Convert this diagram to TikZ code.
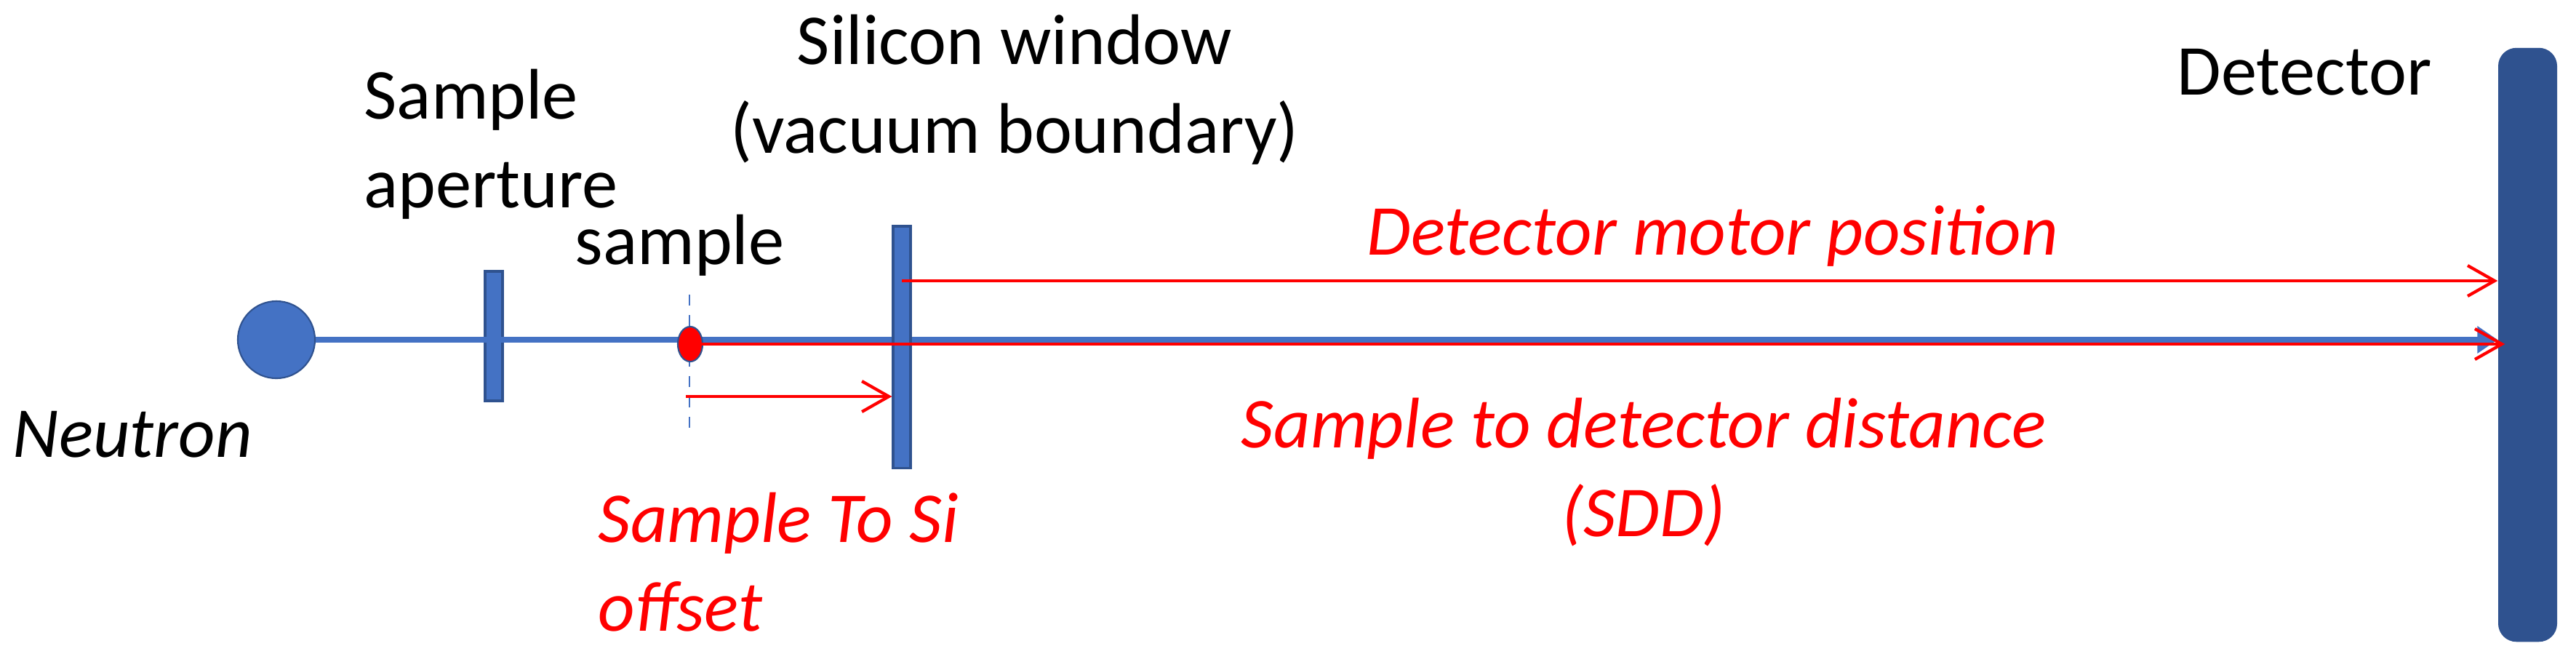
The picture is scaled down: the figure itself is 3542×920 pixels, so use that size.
\documentclass[tikz,border=0pt]{standalone}
\usepackage{fontspec}
\setmainfont{Carlito}
\usetikzlibrary{arrows.meta,shapes.geometric}
\definecolor{offblue}{HTML}{4472C4}
\definecolor{offdark}{HTML}{2F528F}
\definecolor{offred}{HTML}{FF0000}
\tikzset{
  lbl/.style={inner sep=0pt, font=\fontsize{28}{34.7}\selectfont, text=black},
  redlbl/.style={lbl, font=\fontsize{28}{34.7}\selectfont\itshape, text=offred},
  bar/.style={rectangle, draw=offdark, fill=offblue, line width=0.9pt, inner sep=0pt, minimum width=0.24cm},
  beam/.style={offblue, line width=2.2pt, -{Triangle[length=0.28cm,width=0.36cm]}},
  measure/.style={offred, line width=1.2pt, -{Straight Barb[length=0.37cm,width=0.42cm]}},
}
\begin{document}
\begin{tikzpicture}[x=0.01cm,y=-0.01cm]
\path[use as bounding box] (0,0) rectangle (3542,920);

% shapes
\node[circle, draw=offdark, fill=offblue, line width=0.6pt, minimum size=1.06cm, inner sep=0pt] (neutron) at (380,467) {};
\node[bar, minimum height=1.78cm] (aperture) at (679,462) {};
\node[rectangle, rounded corners=0.25cm, fill=offdark, minimum width=0.81cm, minimum height=8.16cm, inner sep=0pt] (det) at (3475.5,474) {};

% beam
\draw[beam] (neutron.east) -- (det.west |- neutron.east);

\node[bar, minimum height=3.32cm] (si) at (1240,477) {};

% sample position
\coordinate (dtop) at (948,405);
\coordinate (dbot) at (948,595);
\draw[offblue, line width=0.8pt, dash pattern=on 0.15cm off 0.13cm] (dtop) -- (dbot);
\node[ellipse, draw=offdark, fill=offred, line width=0.6pt, minimum width=0.34cm, minimum height=0.48cm, inner sep=0pt] (sample) at (949,473) {};

% measurement arrows
\coordinate (m0) at (1240,386);
\draw[measure] (m0) -- (det.west |- m0);
\draw[measure] (sample.center) -- ([xshift=0.1cm]det.west |- sample.center);
\coordinate (o0) at (943,545);
\draw[measure] (o0) -- (si.west |- o0);

% labels
\node[lbl, anchor=base west, font=\fontsize{28}{34.7}\selectfont\itshape] (tneutron) at (17,628) {Neutron};
\node[lbl, anchor=base west] (taperture) at (500,163) {\begin{tabular}[t]{@{}l@{}}Sample\\aperture\end{tabular}};
\node[lbl, anchor=base west] (tsample) at (790,363) {sample};
\node[lbl, anchor=base] (tsi) at (1395,88) {\begin{tabular}[t]{@{}c@{}}Silicon window\\(vacuum boundary)\end{tabular}};
\node[lbl, anchor=base west] (tdet) at (2993,130) {Detector};
\node[redlbl, anchor=base west] (tmotor) at (1879,350) {Detector motor position};
\node[redlbl, anchor=base] (tsdd) at (2260,615) {\begin{tabular}[t]{@{}c@{}}Sample to detector distance\\(SDD)\end{tabular}};
\node[redlbl, anchor=base west] (toffset) at (822,745) {\begin{tabular}[t]{@{}l@{}}Sample To Si\\offset\end{tabular}};
\end{tikzpicture}
\end{document}
